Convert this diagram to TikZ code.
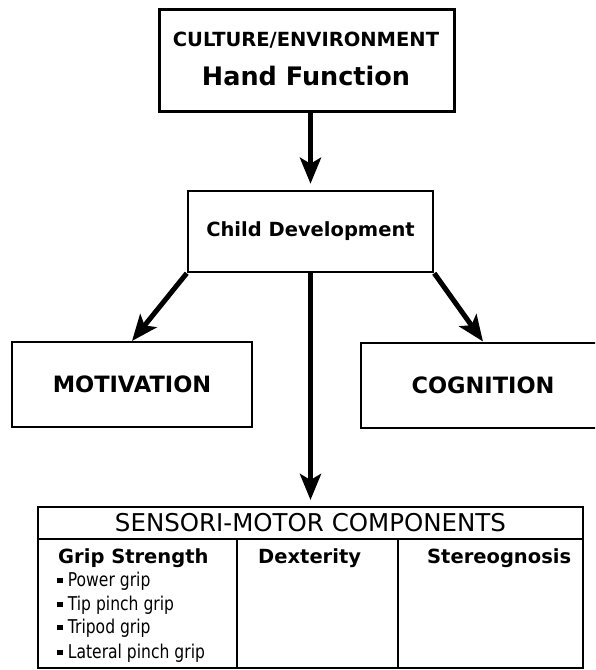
\documentclass[tikz,border=0pt]{standalone}
\usepackage{fontspec}
\setmainfont{DejaVu Sans}
\newfontfamily\narrowfont[FakeStretch=0.82]{DejaVu Sans}
\usetikzlibrary{arrows.meta, positioning}

\newcommand{\sqbullet}{\rule[0.25ex]{0.3em}{0.3em}\ }

\begin{document}
\begin{tikzpicture}[x=1pt, y=-1pt,
    box/.style={draw, line width=2pt, inner sep=0pt, align=center},
    cell/.style={draw, line width=2pt, inner sep=0pt, minimum height=129pt},
    colhead/.style={anchor=base west, inner sep=0pt, font=\fontsize{19.5}{19.5}\selectfont\bfseries},
    listitem/.style={anchor=base west, inner sep=0pt, font=\narrowfont\fontsize{19}{19}\selectfont},
    flow/.style={-{Stealth[length=26pt, width=21pt, inset=6pt]}, line width=5pt}]
    \useasboundingbox (0,0) rectangle (595,670);
    \clip (0,0) rectangle (595,670);

    % Top box
    \node[box, line width=3pt, minimum width=295pt, minimum height=102pt] (culture) at (306.5,60) {};
    \node[font=\fontsize{19.5}{19.5}\selectfont\bfseries] (cultureLabel) at (306,40) {CULTURE/ENVIRONMENT};
    \node[font=\fontsize{25.5}{25.5}\selectfont\bfseries] (handLabel) at (306,76) {Hand Function};

    % Middle row
    \node[box, line width=2.5pt, minimum width=245pt, minimum height=81pt,
          font=\fontsize{19.5}{19.5}\selectfont\bfseries] (child) at (310.5,231.5) {Child Development};
    \node[box, minimum width=240pt, minimum height=85pt,
          font=\fontsize{22.5}{22.5}\selectfont\bfseries] (motivation) at (132,384.5) {MOTIVATION};
    \node[box, minimum width=244pt, minimum height=85pt,
          font=\fontsize{22.5}{22.5}\selectfont\bfseries] (cognition) at (483,385) {COGNITION};

    % Sensori-motor table
    \node[box, minimum width=545pt, minimum height=32pt,
          font=\fontsize{24.5}{24.5}\selectfont] (sensori) at (310.5,523) {SENSORI-MOTOR COMPONENTS};
    \node[cell, minimum width=199pt] (gripCell) at (137.5,603.5) {};
    \node[cell, minimum width=161pt] (dexCell) at (317.5,603.5) {};
    \node[cell, minimum width=185pt] (stereoCell) at (490.5,603.5) {};

    \node[colhead] (grip) at (58,563) {Grip Strength};
    \node[colhead] (dexterity) at (258,563) {Dexterity};
    \node[colhead] (stereo) at (427,563) {Stereognosis};
    \node[listitem] (power) at (57,586) {\sqbullet Power grip};
    \node[listitem] (tip) at (57,610) {\sqbullet Tip pinch grip};
    \node[listitem] (tripod) at (57,633) {\sqbullet Tripod grip};
    \node[listitem] (lateral) at (57,658) {\sqbullet Lateral pinch grip};

    % Arrows
    \draw[flow, shorten >=6pt] (culture.south -| child.north) -- (child.north);
    \draw[flow] (child.south west) -- (motivation.north);
    \draw[flow] (child.south east) -- (cognition.north);
    \draw[flow, shorten >=6pt] (child.south) -- (sensori.north);
\end{tikzpicture}
\end{document}
